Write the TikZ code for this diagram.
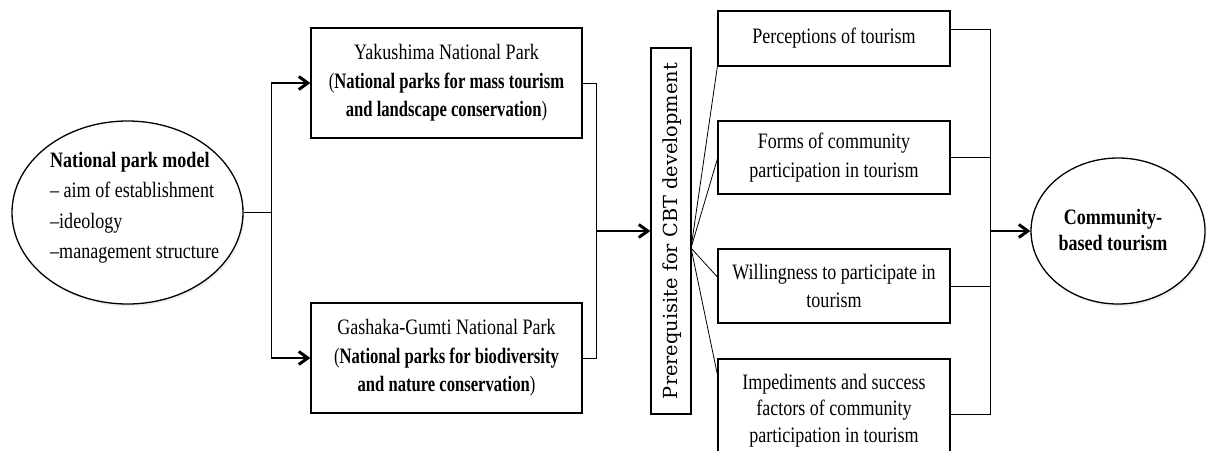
\documentclass[tikz,border=0pt]{standalone}
\usepackage{fontspec}
\setmainfont{Liberation Serif}[FakeStretch=0.82]
\newfontfamily\condfont{Liberation Serif}[FakeStretch=0.755]
\newfontfamily\prefont{DejaVu Serif}
\usetikzlibrary{arrows.meta,shapes.geometric,shadows}
\begin{document}
\begin{tikzpicture}[x=1pt,y=-1pt,
  every node/.style={font=\fontsize{22}{28.5}\selectfont},
  boxnode/.style={draw, line width=1.3pt, rectangle, align=center, inner sep=0pt},
  oval/.style={draw, line width=1.3pt, ellipse, inner sep=0pt, fill=white,
    drop shadow={opacity=0.12, shadow xshift=1.5pt, shadow yshift=-2.5pt}},
  thinline/.style={line width=1pt},
  fanline/.style={line width=0.8pt},
  arr/.style={line width=2.2pt, -{Straight Barb[length=9pt,width=13pt,line width=3pt]}},
]
\useasboundingbox (0,0) rectangle (1206,450);
\clip (0,0) rectangle (1206,450);

% left ellipse
\node[oval, minimum width=231pt, minimum height=183pt] (np) at (127.5,212.5) {};
\node[align=left, anchor=west, inner sep=0pt, font=\fontsize{22}{30.5}\selectfont] (nptext) at (50,207.5)
  {\textbf{National park model}\\– aim of establishment\\–ideology\\–management structure};

% park boxes
\node[boxnode, minimum width=271pt, minimum height=110pt] (yak) at (446.5,83)
  {Yakushima National Park\\{\condfont(\textbf{National parks for mass tourism}}\\{\condfont\textbf{and landscape conservation})}};
\node[boxnode, minimum width=271pt, minimum height=110pt] (gas) at (446.5,358)
  {Gashaka-Gumti National Park\\{\condfont(\textbf{National parks for biodiversity}}\\{\condfont\textbf{and nature conservation})}};

% prerequisite box
\node[boxnode, minimum width=40pt, minimum height=366pt] (pre) at (671,231) {};
\node[rotate=90, inner sep=0pt] (pretext) at (672,231)
  {\resizebox{336pt}{!}{\prefont Prerequisite for CBT development}};

% right boxes
\node[boxnode, minimum width=232pt, minimum height=55pt] (p1) at (834,38.5) {Perceptions of tourism};
\node[boxnode, minimum width=232pt, minimum height=73pt] (p2) at (834,157.5)
  {Forms of community\\participation in tourism};
\node[boxnode, minimum width=232pt, minimum height=74pt] (p3) at (834,286)
  {Willingness to participate in\\tourism};
\node[boxnode, minimum width=232pt, minimum height=103pt, font=\fontsize{22}{26.5}\selectfont] (p4) at (834,410.5)
  {Impediments and success\\factors of community\\participation in tourism};

% right ellipse
\node[oval, minimum width=174pt, minimum height=146pt] (cbt) at (1118,231) {};
\node[align=center, inner sep=0pt, font=\fontsize{22}{26.5}\selectfont] (cbttext) at (1113,230)
  {\textbf{Community-}\\\textbf{based tourism}};

% connectors: left
\coordinate (j1) at (271,212.5);
\coordinate (a1) at (271,83);
\coordinate (a2) at (271,358);
\draw[thinline] (np.east) -- (j1);
\draw[thinline] (a1) -- (a2);
\draw[arr] (a1) -- (yak.west);
\draw[arr] (a2) -- (gas.west);

% connectors: park boxes to prerequisite
\coordinate (j2) at (596,231);
\draw[thinline] (yak.east) -| (j2);
\draw[thinline] (gas.east) -| (j2);
\draw[arr] (j2) -- (pre.west);

% fan
\coordinate (f) at (691,248);
\draw[fanline] (f) -- (p1.south west);
\draw[fanline] (f) -- ([yshift=-1.5pt]p2.west);
\draw[fanline] (f) -- ([yshift=9pt]p3.west);
\draw[fanline] (f) -- ([yshift=-16pt]p4.north west);

% right connectors
\coordinate (j3) at (990,231);
\draw[thinline] ([yshift=9.5pt]p1.east) -| (j3);
\draw[thinline] (p2.east) -| (j3);
\draw[thinline] (p3.east) -| (j3);
\draw[thinline] ([yshift=-3.5pt]p4.east) -| (j3);
\draw[arr] (j3) -- (cbt.west);
\end{tikzpicture}
\end{document}
